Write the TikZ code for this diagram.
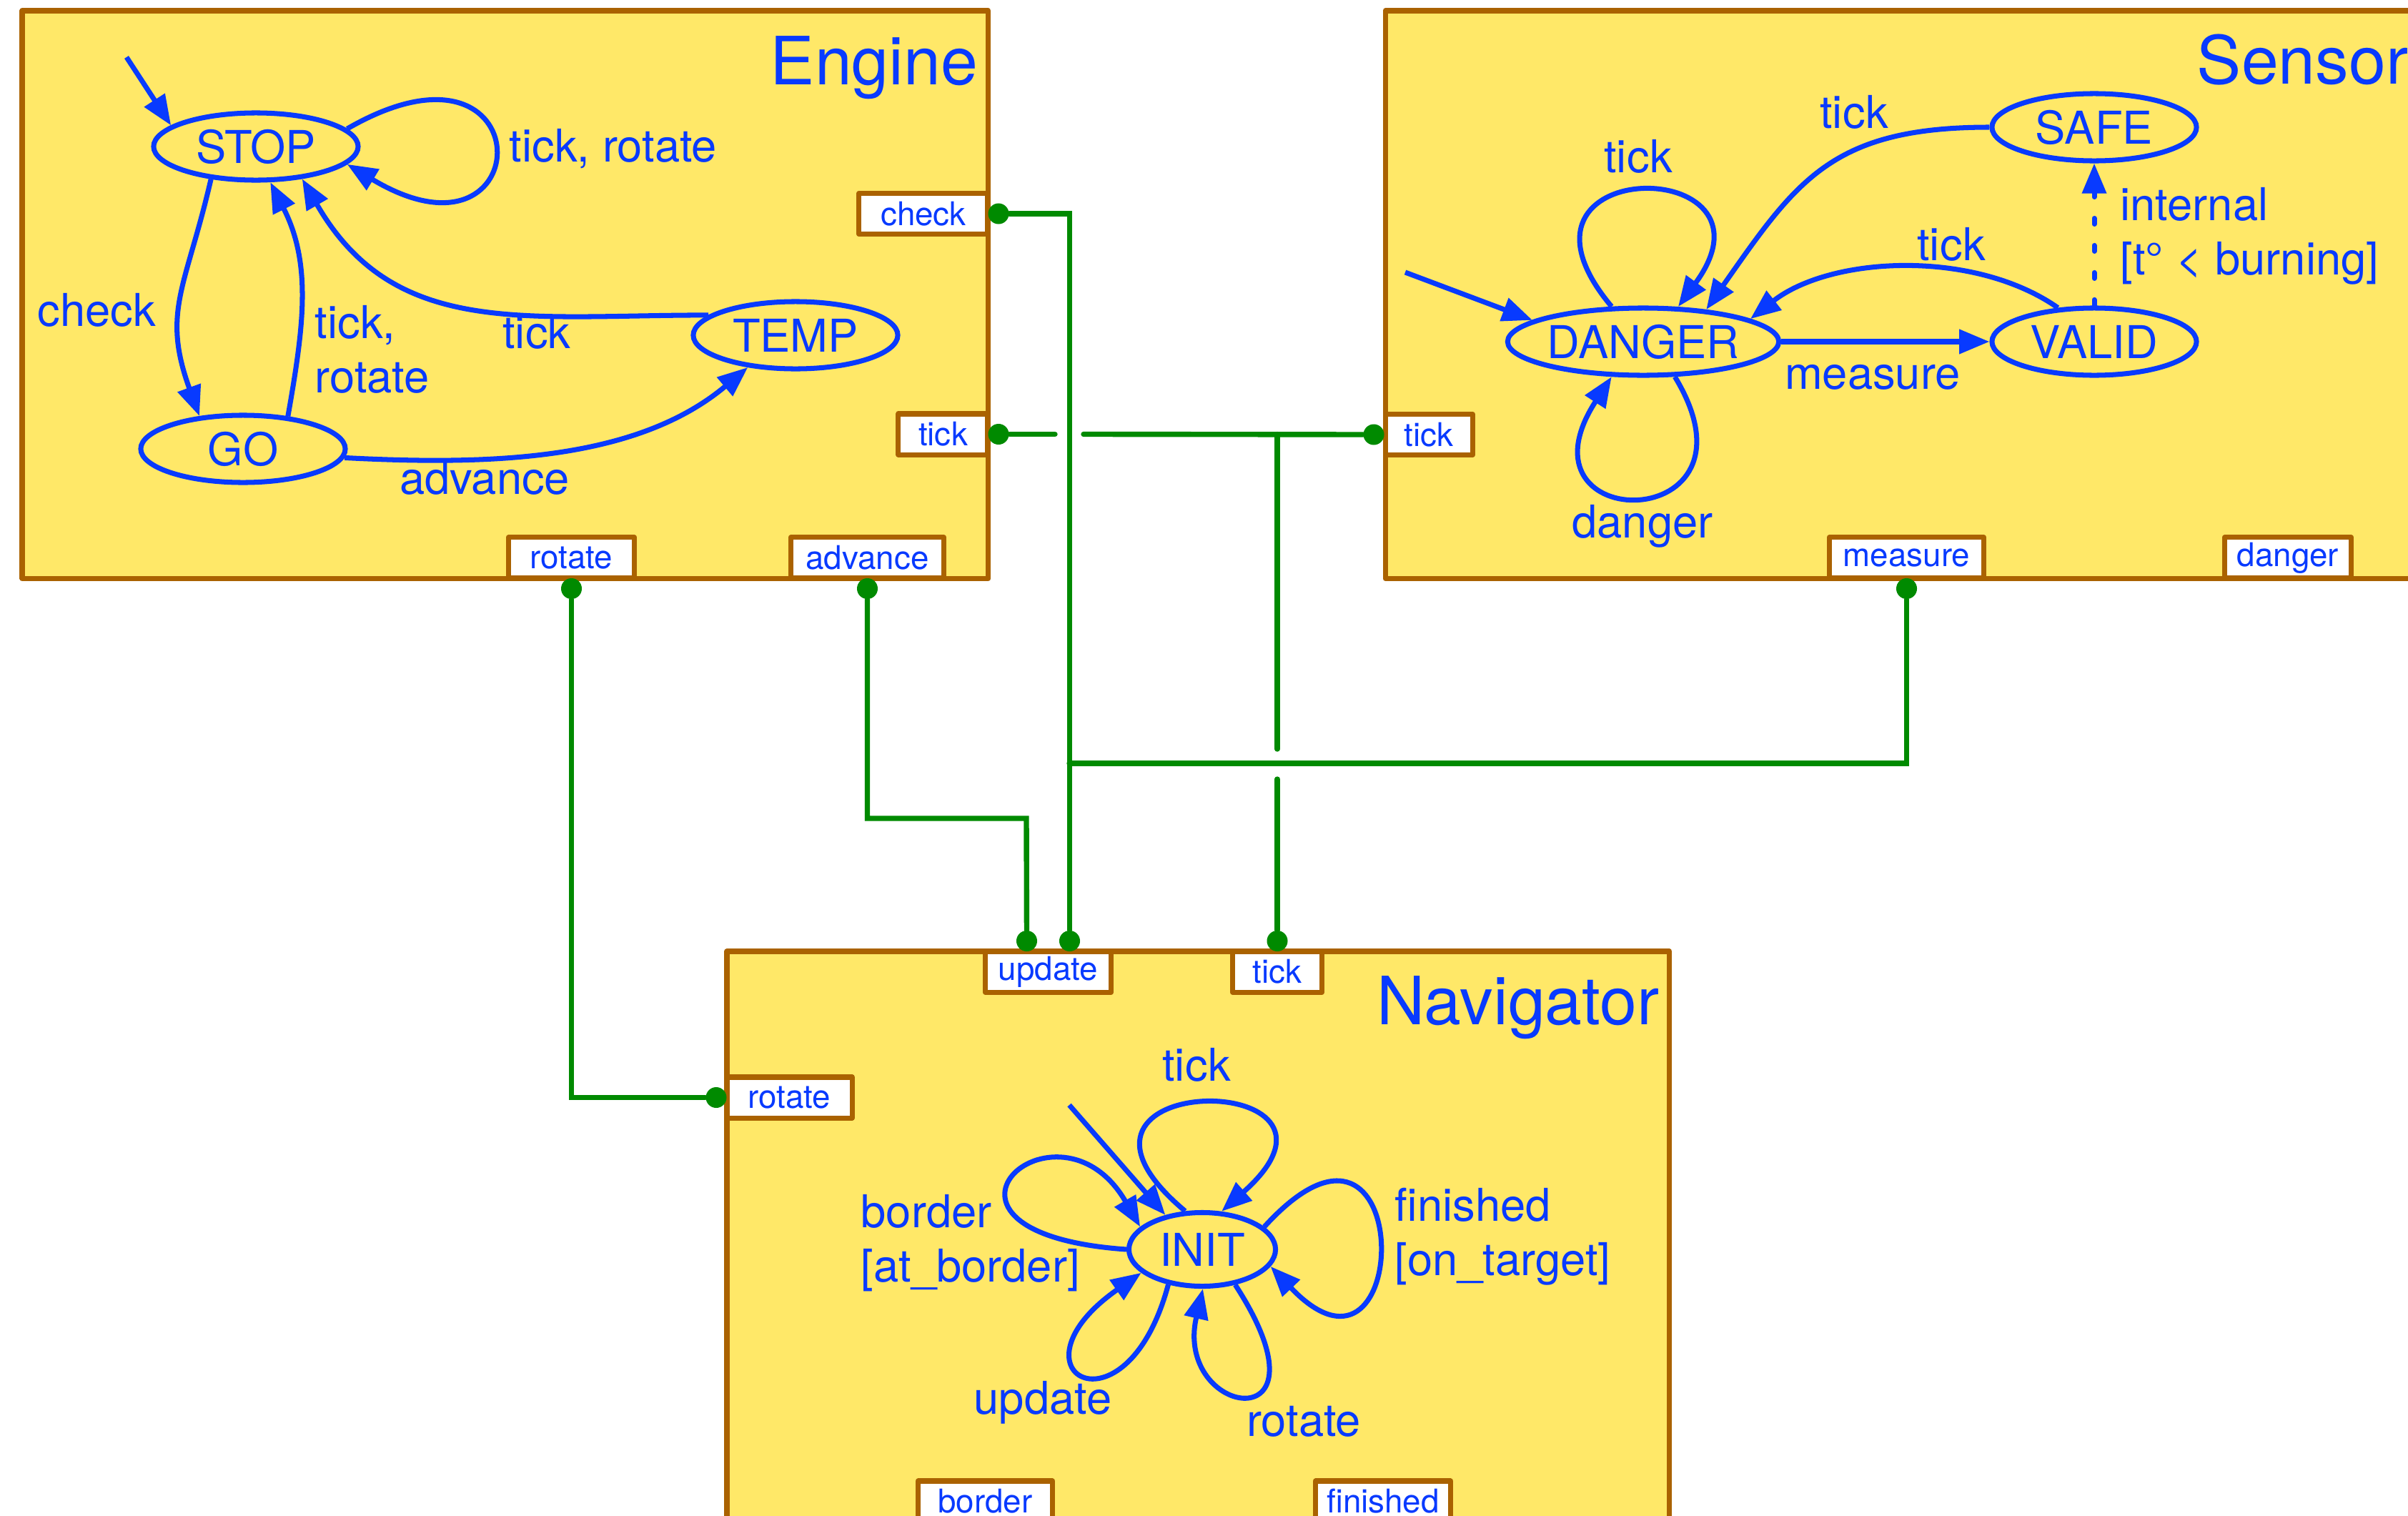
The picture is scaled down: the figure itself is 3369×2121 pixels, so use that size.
\documentclass[tikz,border=0pt]{standalone}
\usepackage{fontspec}
\setmainfont{TeX Gyre Heros}
\usepackage{tikz}
\usetikzlibrary{arrows.meta, calc, shapes.geometric}

\definecolor{fsmblue}{RGB}{8,58,255}
\definecolor{boxfill}{RGB}{255,232,104}
\definecolor{boxline}{RGB}{170,98,0}
\definecolor{wiregreen}{RGB}{0,138,0}

\begin{document}
\begin{tikzpicture}[
  x=0.01cm, y=-0.01cm,
  comp/.style   = {draw=boxline, fill=boxfill, line width=2pt, line join=round,
                   outer sep=0pt, anchor=north west},
  ctitle/.style = {font=\fontsize{26.5}{32}\selectfont, text=fsmblue,
                   anchor=base east, inner sep=0pt},
  port/.style   = {draw=boxline, fill=white, line width=2pt, line join=round,
                   minimum width=#1, minimum height=0.57cm, inner sep=0pt,
                   outer sep=0pt, font=\fontsize{13}{15.6}\selectfont, text=fsmblue},
  st/.style     = {ellipse, draw=fsmblue, line width=2pt, inner sep=0pt,
                   minimum width=2.86cm, minimum height=0.94cm,
                   font=\fontsize{18}{21.6}\selectfont, text=fsmblue},
  tr/.style     = {draw=fsmblue, line width=2pt, -{Triangle[length=12pt, width=9.4pt]}},
  lbl/.style    = {font=\fontsize{18}{21.6}\selectfont, text=fsmblue,
                   inner sep=0pt, align=left},
  wire/.style   = {draw=wiregreen, line width=2.1pt, line cap=round},
  dot/.style    = {circle, fill=wiregreen, minimum size=0.29cm, inner sep=0pt},
]

\path[use as bounding box, fill=white] (0,0) rectangle (3369,2121);

%% components
\node[comp, minimum width=13.51cm, minimum height=7.94cm] (engine) at (31,15) {};
\node[comp, minimum width=14.45cm, minimum height=7.94cm] (sensor) at (1938,15) {};
\node[comp, minimum width=13.18cm, minimum height=7.98cm] (nav) at (1017,1331) {};

\node[ctitle] (tengine) at ($(engine.north east)+(-14,103)$) {Engine};
\node[ctitle] (tsensor) at ($(sensor.north east)+(-14,102)$) {Sensor};
\node[ctitle] (tnav)    at ($(nav.north east)+(-14,102.5)$) {Navigator};

%% ports
\node[port=1.80cm, anchor=east]  (pecheck) at (1382,299)    {check};
\node[port=1.25cm, anchor=east]  (petick)  at (1382,607.5)  {tick};
\node[port=1.76cm, anchor=south] (perot)   at (799.5,809)   {rotate};
\node[port=2.14cm, anchor=south] (peadv)   at (1213.5,809)  {advance};
\node[port=1.22cm, anchor=west]  (pstick)  at (1938,608)    {tick};
\node[port=2.16cm, anchor=south] (psmeas)  at (2667.5,809)  {measure};
\node[port=1.77cm, anchor=south] (psdng)   at (3201,809)    {danger};
\node[port=1.76cm, anchor=north] (pnupd)   at (1466.5,1331) {update};
\node[port=1.25cm, anchor=north] (pntick)  at (1787,1331)   {tick};
\node[port=1.75cm, anchor=west]  (pnrot)   at (1017,1535.5) {rotate};
\node[port=1.88cm, anchor=south] (pnbrd)   at (1378.5,2129) {border};
\node[port=1.89cm, anchor=south] (pnfin)   at (1935,2129)   {finished};

%% wire ends
\node[dot] (dcheck) at ($(pecheck.east)+(15,0)$) {};
\node[dot] (detick) at ($(petick.east)+(15,0)$) {};
\node[dot] (derot)  at ($(perot.south)+(0,14.5)$) {};
\node[dot] (deadv)  at ($(peadv.south)+(0,14.5)$) {};
\node[dot] (dstick) at ($(pstick.west)+(-16,0)$) {};
\node[dot] (dsmeas) at ($(psmeas.south)+(0,14.5)$) {};
\node[dot] (dupd1)  at ($(pnupd.north)+(-30,-14.5)$) {};
\node[dot] (dupd2)  at ($(pnupd.north)+(30,-14.5)$) {};
\node[dot] (dntick) at ($(pntick.north)+(0,-14.5)$) {};
\node[dot] (dnrot)  at ($(pnrot.west)+(-15,0)$) {};

\coordinate (jmeas) at (1496,1068);
\coordinate (jtick) at (1787,607.5);
\coordinate (gapl)  at (1476,607.5);
\coordinate (gapr)  at (1516,607.5);
\coordinate (gapu)  at (1787,1048);
\coordinate (gapd)  at (1787,1090);
\coordinate (badv)  at (1436,1145);

%% wires
\draw[wire] (dcheck) -| (dupd2);
\draw[wire] (dsmeas) |- (jmeas);
\draw[wire] (detick) -- (gapl);
\draw[wire] (gapr) -- (dstick);
\draw[wire] (jtick) -- (gapu);
\draw[wire] (gapd) -- (dntick);
\draw[wire] (deadv) |- (badv) -- (dupd1);
\draw[wire] (derot) |- (dnrot);

%% Engine
\node[st] (stop) at (358,205)  {STOP};
\node[st] (go)   at (340,628)  {GO};
\node[st] (temp) at (1113,469) {TEMP};

\coordinate (e0) at (177,80);
\draw[tr] (e0) -- (stop.166);
\draw[tr] (stop.11) .. controls +(30:3.2cm) and +(-31:3.16cm) .. (stop.-11);
\draw[tr] (stop.-144) to[out=-103, in=110, looseness=1.2] (go.143);
\draw[tr] (go.36) to[out=80, in=-63] (stop.-68);
\draw[tr] (temp.167) to[out=180, in=-60, looseness=1.1] (stop.-35);
\draw[tr] (go.-5) to[out=-3, in=-140, looseness=0.9] (temp.-146);

\node[lbl, anchor=base west] (lstop) at (712,226) {tick, rotate};
\node[lbl, anchor=base east] (lchk)  at (219,456) {check};
\node[lbl, anchor=west]      (lgo)   at (440,489) {tick,\\rotate};
\node[lbl, anchor=base]      (ltemp) at (751,487) {tick};
\node[lbl, anchor=base]      (ladv)  at (678,691) {advance};

%% Sensor
\node[st, minimum width=3.75cm] (dng) at (2299,478) {DANGER};
\node[st] (safe) at (2930,178) {SAFE};
\node[st] (val)  at (2930,478) {VALID};

\coordinate (s0) at (1966,381);
\draw[tr] (s0) -- (dng.169);
\draw[tr] (dng.132) .. controls +(130:2.8cm) and +(53.7:2.67cm) .. (dng.45);
\draw[tr] (dng.-48) .. controls +(-58.7:2.62cm) and +(-123:2.67cm) .. (dng.-132);
\draw[tr] (safe.west) to[out=180, in=55, looseness=1.2] (dng.27);
\draw[tr] (val.137) to[out=145, in=38, looseness=0.85] (dng.12);
\draw[tr] (dng) -- (val);
\draw[tr, dash pattern=on 2.3pt off 8.5pt, line cap=round] (val) -- (safe);

\node[lbl, anchor=base] (lsloop) at (2292,241) {tick};
\node[lbl, anchor=base] (ldng)   at (2298,752) {danger};
\node[lbl, anchor=base] (lsafe)  at (2594,179) {tick};
\node[lbl, anchor=base] (lval)   at (2730,364) {tick};
\node[lbl, anchor=base] (lmeas)  at (2620,544) {measure};
\node[lbl, anchor=west] (lint)   at (2966,330) {internal\\{}[t° < burning]};

%% Navigator
\node[st, minimum width=2.05cm, minimum height=1.03cm] (init) at (1682,1748) {INIT};

\coordinate (n0) at (1496,1546);
\draw[tr] (n0) -- (init.137);
\draw[tr] (init.114) .. controls +(140:3.1cm) and +(41.5:3.05cm) .. (init.63);
\draw[tr] (init.20) .. controls +(47.7:3.19cm) and +(-46.4:2.91cm) .. (init.-14);
\draw[tr] (init.180) .. controls +(176:3.3cm) and +(120:2.3cm) .. (init.160);
\draw[tr] (init.-134) .. controls +(-105:2.3cm) and +(-145:2.4cm) .. (init.-159);
\draw[tr] (init.-47) .. controls +(-57:2.65cm) and +(-103:1.85cm) .. (init.-89);

\node[lbl, anchor=base] (lntick) at (1674,1512) {tick};
\node[lbl, anchor=west] (lnbrd)  at (1204,1739) {border\\{}[at\_border]};
\node[lbl, anchor=west] (lnfin)  at (1951,1730) {finished\\{}[on\_target]};
\node[lbl, anchor=base] (lnupd)  at (1459,1978) {update};
\node[lbl, anchor=base] (lnrot)  at (1824,2009) {rotate};

\end{tikzpicture}
\end{document}
